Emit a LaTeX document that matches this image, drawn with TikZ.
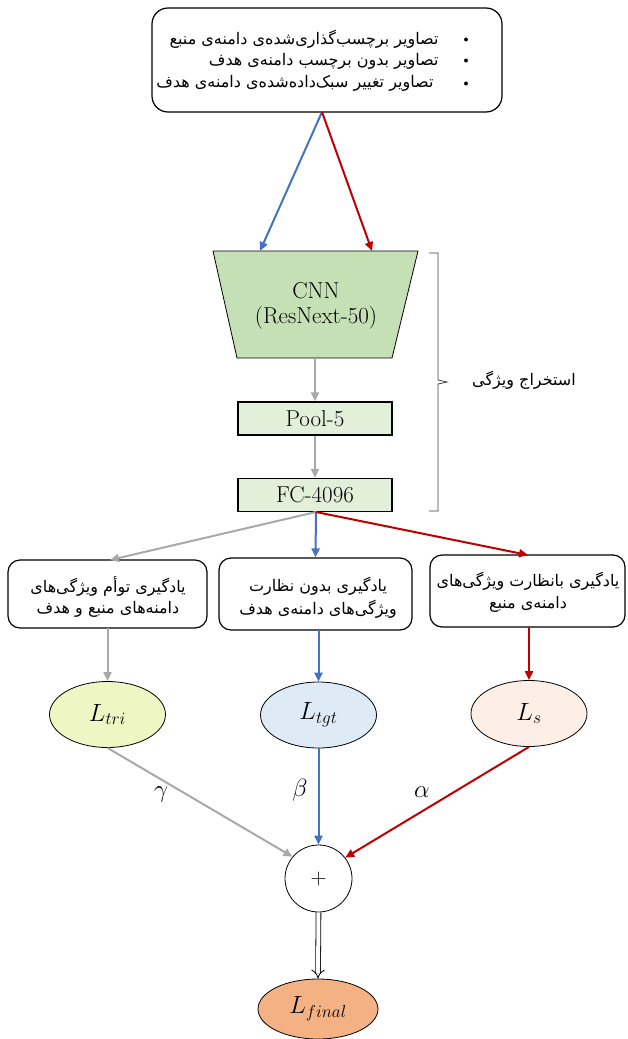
\documentclass[tikz,border=0pt]{standalone}
\usepackage{fontspec}
\usetikzlibrary{arrows.meta,shapes.geometric}
\newfontfamily\fa[Script=Arabic]{DejaVu Sans}
\TeXXeTstate=1
\definecolor{cblue}{HTML}{4472C4}
\definecolor{cred}{HTML}{C00000}
\definecolor{cgray}{HTML}{A9A9A9}
\definecolor{cnnfill}{HTML}{C5E0B4}
\definecolor{boxfill}{HTML}{E2F0D9}
\definecolor{trifill}{HTML}{EEF6C4}
\definecolor{tgtfill}{HTML}{DEEBF7}
\definecolor{sfill}{HTML}{FDEFE5}
\definecolor{finfill}{HTML}{F4B183}
\tikzset{
  rbox/.style={draw=black, line width=1.2pt, rounded corners=12pt, fill=white},
  gbox/.style={draw=black, line width=1.4pt, fill=boxfill, minimum width=154pt, minimum height=33pt, inner sep=0pt, font=\fontsize{23}{26}\selectfont},
  lossnode/.style={ellipse, draw=black, line width=0.8pt, minimum width=116pt, minimum height=66pt, inner sep=0pt, font=\fontsize{25}{28}\selectfont},
  arr/.style={line width=2pt, -{Triangle[length=9pt,width=8pt]}},
  fatext/.style={font=\fa\fontsize{16}{18}\selectfont, inner sep=0pt},
  toptext/.style={anchor=east, font=\fa\fontsize{16}{18}\selectfont},
  greek/.style={font=\fontsize{23}{26}\selectfont, text=black},
}
\begin{document}
\begin{tikzpicture}[x=1pt,y=-1pt]
\useasboundingbox (0,0) rectangle (627,1039);
% top box
\node[rbox, minimum width=350pt, minimum height=104pt, rounded corners=16pt] (top) at (327,60) {};
\node[toptext] (t1) at (442,39) {\beginR تصاویر برچسب‌گذاری‌شده‌ی دامنه‌ی منبع\endR};
\node[toptext] (t2) at (442,61) {\beginR تصاویر بدون برچسب دامنه‌ی هدف\endR};
\node[toptext] (t3) at (437,83) {\beginR تصاویر تغییر سبک‌داده‌شده‌ی دامنه‌ی هدف\endR};
\node (b1) at (466,40) {$\bullet$};
\node (b2) at (466,61) {$\bullet$};
\node (b3) at (466,84) {$\bullet$};
% CNN
\coordinate (cnnTL) at (213,251);
\coordinate (cnnTR) at (418,251);
\coordinate (cnnBR) at (392,358);
\coordinate (cnnBL) at (237,358);
\coordinate (cnnB) at (315,358);
\draw[line width=0.8pt, fill=cnnfill] (cnnTL) -- (cnnTR) -- (cnnBR) -- (cnnBL) -- cycle;
\node[font=\fontsize{23}{26}\selectfont] (cnn) at (316,291) {CNN};
\node[font=\fontsize{23}{26}\selectfont] (cnn2) at (316,318) {(ResNext-50)};
\coordinate (cnnL) at (260,251);
\coordinate (cnnR) at (372,251);
\coordinate (topB) at (322,112);
\draw[arr, cblue] (topB) -- (cnnL);
\draw[arr, cred] (topB) -- (cnnR);
% pool, fc
\node[gbox] (pool) at (315,418.5) {Pool-5};
\node[gbox] (fc) at (315,495) {FC-4096};
\draw[arr, cgray] (cnnB) -- (pool.north);
\draw[arr, cgray] (pool.south) -- (fc.north);
% brace
\coordinate (brT) at (429,253);
\coordinate (brB) at (429,511);
\coordinate (brM) at (447,382);
\draw[line width=0.8pt, black!75] (brT) -- (438,253) -- (438,380) -- (brM) -- (438,384) -- (438,511) -- (brB);
\node[font=\fa\fontsize{16}{18}\selectfont] (fe) at (524,380) {\beginR استخراج ویژگی\endR};
% branch boxes
\node[rbox, minimum width=199pt, minimum height=68pt] (lb) at (107.5,594) {};
\node[fatext] (lb1) at (108,586) {\beginR یادگیری توأم ویژگی‌های\endR};
\node[fatext] (lb2) at (108,609) {\beginR دامنه‌های منبع و هدف\endR};
\node[rbox, minimum width=193pt, minimum height=72pt] (mb) at (315.5,594) {};
\node[fatext] (mb1) at (318,586) {\beginR یادگیری بدون نظارت\endR};
\node[fatext] (mb2) at (318,609) {\beginR ویژگی‌های دامنه‌ی هدف\endR};
\node[rbox, minimum width=195pt, minimum height=72pt] (rb) at (527.5,591) {};
\node[fatext] (rb1) at (528,581) {\beginR یادگیری بانظارت ویژگی‌های\endR};
\node[fatext] (rb2) at (528,604) {\beginR دامنه‌ی منبع\endR};
\coordinate (fcB) at (316,512);
\draw[arr, cgray] (fcB) -- (110,560);
\draw[arr, cblue] (fcB) -- (mb.north);
\draw[arr, cred] (fcB) -- (528,555);
% losses
\node[lossnode, fill=trifill] (ltri) at (107.5,714.5) {$L_{tri}$};
\node[lossnode, fill=tgtfill] (ltgt) at (318.5,715) {$L_{tgt}$};
\node[lossnode, fill=sfill] (ls) at (529,713.5) {$L_{s}$};
\draw[arr, cgray] (107.5,628) -- (ltri.north);
\draw[arr, cblue] (318.5,630) -- (ltgt.north);
\draw[arr, cred] (529,627) -- (ls.north);
% plus
\node[circle, draw=black, line width=0.8pt, minimum size=67pt, inner sep=0pt, font=\fontsize{22}{24}\selectfont, fill=white] (plus) at (318.5,878.5) {+};
\draw[arr, cgray] (ltri.south) -- (plus.140);
\draw[arr, cblue] (ltgt.south) -- (plus.north);
\draw[arr, cred] (ls.south) -- (plus.38);
\node[greek] (gam) at (161,795) {$\gamma$};
\node[greek] (bet) at (300,790) {$\beta$};
\node[greek] (alp) at (422,792) {$\alpha$};
% final
\node[lossnode, fill=finfill, minimum width=120pt, minimum height=60pt] (lfin) at (318,1009) {$L_{final}$};
\draw[double=white, double distance=4pt, line width=0.8pt, -{Implies[length=7pt]}] (plus.south) -- (lfin.north);
\end{tikzpicture}
\end{document}
